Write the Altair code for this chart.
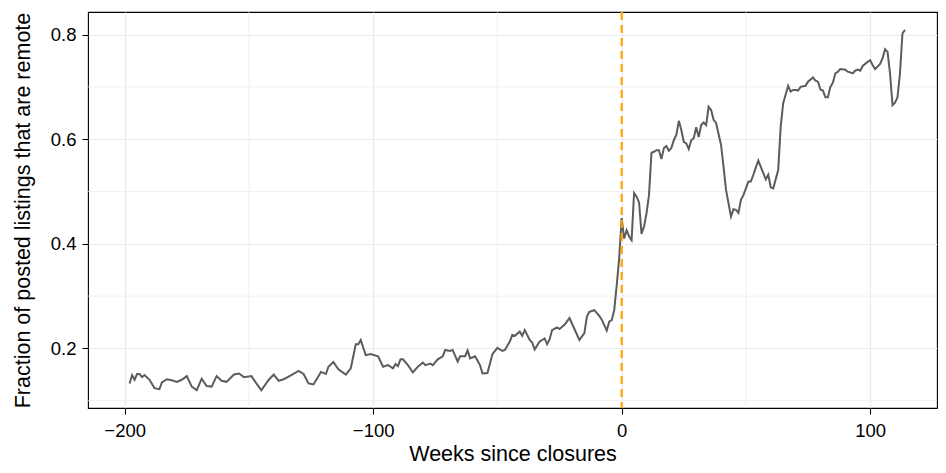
import altair as alt
import pandas as pd

weeks = [-198, -197, -196, -195, -194, -193, -192, -190, -188, -186, -185, -183, -181, -179,
         -177, -175, -173, -171, -169, -167, -165, -163, -161, -159, -156, -154, -152, -149,
         -147, -145, -142, -140, -138, -136, -134, -130, -128, -126, -124, -121, -119, -118,
         -116, -114, -111, -109, -107, -106, -105, -103, -101, -98, -96, -94, -92, -91, -90,
         -89, -88, -86, -84, -82, -80, -79, -77, -76, -74, -72, -71, -69, -68, -66, -65, -63,
         -62, -61, -59, -57, -56, -54, -52, -50, -48, -47, -45, -44, -43, -41, -40, -39, -37,
         -36, -35, -33, -32, -31, -30, -29, -28, -26, -25, -23, -21, -19, -17, -15, -14, -13,
         -11, -9, -8, -6, -5, -4, -3, -2, -1, 0, 1, 2, 3, 4, 5, 6, 7, 8, 9, 10, 11, 12, 13,
         14, 15, 16, 17, 18, 19, 20, 21, 22, 23, 24, 25, 26, 27, 28, 29, 30, 31, 32, 33, 34,
         35, 36, 37, 38, 40, 41, 42, 44, 45, 46, 47, 48, 49, 50, 51, 52, 53, 54, 55, 56, 57,
         58, 59, 60, 61, 63, 64, 65, 67, 68, 69, 70, 71, 72, 74, 75, 77, 78, 79, 80, 81, 82,
         83, 84, 85, 86, 87, 88, 90, 91, 93, 94, 95, 96, 97, 98, 99, 100, 101, 102, 104, 105,
         106, 107, 108, 109, 110, 111, 112, 113, 114]

share = [0.133, 0.149, 0.140, 0.151, 0.151, 0.145, 0.149, 0.140, 0.124, 0.122, 0.135, 0.141,
         0.139, 0.136, 0.140, 0.147, 0.127, 0.120, 0.142, 0.128, 0.127, 0.147, 0.138, 0.136,
         0.150, 0.152, 0.145, 0.147, 0.133, 0.120, 0.140, 0.150, 0.138, 0.141, 0.146, 0.157,
         0.151, 0.133, 0.131, 0.155, 0.151, 0.165, 0.174, 0.160, 0.150, 0.162, 0.208, 0.208,
         0.216, 0.187, 0.189, 0.185, 0.165, 0.168, 0.162, 0.170, 0.166, 0.179, 0.179, 0.168,
         0.154, 0.165, 0.173, 0.168, 0.171, 0.168, 0.179, 0.185, 0.197, 0.195, 0.197, 0.175,
         0.185, 0.185, 0.196, 0.181, 0.185, 0.168, 0.152, 0.153, 0.189, 0.201, 0.195, 0.197,
         0.213, 0.226, 0.224, 0.232, 0.224, 0.235, 0.216, 0.211, 0.198, 0.213, 0.216, 0.219,
         0.208, 0.217, 0.235, 0.240, 0.237, 0.245, 0.258, 0.237, 0.216, 0.229, 0.261, 0.270,
         0.273, 0.262, 0.255, 0.234, 0.251, 0.254, 0.273, 0.320, 0.372, 0.449, 0.410, 0.426,
         0.414, 0.407, 0.497, 0.490, 0.479, 0.419, 0.433, 0.458, 0.493, 0.574, 0.576, 0.579,
         0.579, 0.562, 0.583, 0.587, 0.578, 0.583, 0.598, 0.608, 0.635, 0.618, 0.595, 0.592,
         0.581, 0.598, 0.602, 0.623, 0.604, 0.627, 0.632, 0.627, 0.662, 0.656, 0.637, 0.631,
         0.589, 0.547, 0.503, 0.452, 0.466, 0.465, 0.459, 0.484, 0.493, 0.506, 0.519, 0.519,
         0.532, 0.546, 0.559, 0.547, 0.535, 0.523, 0.532, 0.508, 0.506, 0.541, 0.624, 0.669,
         0.702, 0.691, 0.694, 0.694, 0.693, 0.700, 0.702, 0.710, 0.718, 0.712, 0.710, 0.695,
         0.693, 0.680, 0.680, 0.700, 0.708, 0.726, 0.729, 0.734, 0.733, 0.729, 0.726, 0.731,
         0.733, 0.731, 0.740, 0.744, 0.748, 0.751, 0.742, 0.734, 0.744, 0.755, 0.772, 0.767,
         0.726, 0.665, 0.670, 0.680, 0.726, 0.802, 0.809]

x_ticks = [-200, -100, 0, 100]
x_minor = [-150, -50, 50]
y_ticks = [0.2, 0.4, 0.6, 0.8]
y_minor = [0.1, 0.3, 0.5, 0.7]
event_week = [0]

FONT = "Liberation Sans"

df = pd.DataFrame({"week": weeks, "share": share})
xs = alt.Scale(domain=[-214.75, 126.9], nice=False, zero=False)
ys = alt.Scale(domain=[0.0860, 0.8432], nice=False, zero=False)

x_axis = alt.Axis(values=x_ticks, title="Weeks since closures", grid=True,
                  labelFontSize=18.5, titleFontSize=21.5, labelPadding=7, titlePadding=4)
y_axis = alt.Axis(values=y_ticks, title="Fraction of posted listings that are remote",
                  grid=True, format=".1f", labelFontSize=18.5, titleFontSize=21.5,
                  labelPadding=6, titlePadding=16)

minor_v = alt.Chart(pd.DataFrame({"x": x_minor})).mark_rule(
    color="#ebebeb", strokeWidth=0.7
).encode(x=alt.X("x:Q", scale=xs, axis=x_axis))

minor_h = alt.Chart(pd.DataFrame({"y": y_minor})).mark_rule(
    color="#ebebeb", strokeWidth=0.7
).encode(y=alt.Y("y:Q", scale=ys, axis=y_axis))

line = alt.Chart(df).mark_line(color="#5c5c5c", strokeWidth=2.0).encode(
    x=alt.X("week:Q", scale=xs, axis=x_axis),
    y=alt.Y("share:Q", scale=ys, axis=y_axis),
)

vline = alt.Chart(pd.DataFrame({"x": event_week})).mark_rule(
    color="#FFA500", strokeWidth=2.2, strokeDash=[8, 5]
).encode(x=alt.X("x:Q", scale=xs, axis=x_axis))

chart = alt.layer(minor_v, minor_h, line, vline).properties(
    width=849, height=396,
    padding={"left": 80, "top": 4, "right": 1, "bottom": 57},
    autosize=alt.AutoSizeParams(type="none"),
).configure_view(
    stroke="black", strokeWidth=1.1
).configure_axis(
    labelFont=FONT, titleFont=FONT, labelColor="black", titleColor="black",
    titleFontWeight="normal", domain=False, tickColor="black", tickSize=6, tickWidth=1.1,
    gridColor="#ebebeb", gridWidth=1.2,
)

chart.save("out.html", embed_options={"renderer": "svg", "actions": False})
